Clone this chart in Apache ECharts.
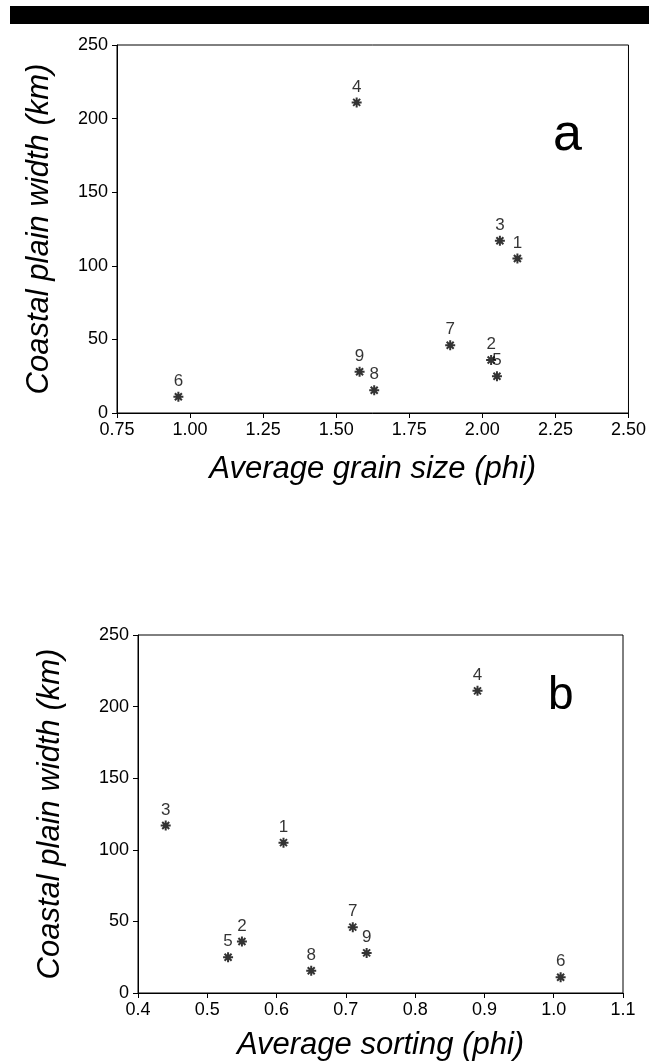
<!DOCTYPE html>
<html>
<head>
<meta charset="utf-8">
<script src="https://cdn.jsdelivr.net/npm/echarts@6/dist/echarts.min.js"></script>
<style>html,body{margin:0;padding:0;background:#fff;}#c{width:649px;height:1064px;}</style>
</head>
<body>
<div id="c"></div>
<script>
// Sample site numbers
var sites = ['1', '2', '3', '4', '5', '6', '7', '8', '9'];
// Coastal plain width (km), shared by both panels
var plainWidth = [105, 36, 117, 211, 25, 11, 46, 15.5, 28];
// Panel a: average grain size (phi)
var grainSize = [2.12, 2.03, 2.06, 1.57, 2.05, 0.96, 1.89, 1.63, 1.58];
// Panel b: average sorting (phi)
var sorting = [0.61, 0.55, 0.44, 0.89, 0.53, 1.01, 0.71, 0.65, 0.73];
// Tick labels
var grainTicks = ['0.75', '1.00', '1.25', '1.50', '1.75', '2.00', '2.25', '2.50'];
var sortTicks = ['0.4', '0.5', '0.6', '0.7', '0.8', '0.9', '1.0', '1.1'];

var FONT = 'Liberation Sans';
var star = 'path://M0,5L10,5M5,0L5,10M1.5,1.5L8.5,8.5M8.5,1.5L1.5,8.5';

function pts(xs) {
  return xs.map(function (x, i) { return { value: [x, plainWidth[i]], name: sites[i] }; });
}
function xAxis(gi, min, max, interval, ticks, name, gap) {
  return {
    gridIndex: gi, type: 'value', min: min, max: max, interval: interval,
    axisLine: { show: true, lineStyle: { color: '#000', width: 1 } },
    axisTick: { show: true, length: 5, lineStyle: { color: '#000' } },
    splitLine: { show: false },
    axisLabel: {
      color: '#000', fontFamily: FONT, fontSize: 18, margin: 8,
      formatter: function (v) { return ticks[Math.round((v - min) / interval)]; }
    },
    name: name, nameLocation: 'middle', nameGap: gap,
    nameTextStyle: { color: '#000', fontFamily: FONT, fontSize: 31, fontStyle: 'italic' }
  };
}
function yAxis(gi, gap) {
  return {
    gridIndex: gi, type: 'value', min: 0, max: 250, interval: 50,
    axisLine: { show: true, lineStyle: { color: '#000', width: 1 } },
    axisTick: { show: true, length: 5, lineStyle: { color: '#000' } },
    splitLine: { show: false },
    axisLabel: { color: '#000', fontFamily: FONT, fontSize: 18, margin: 9 },
    name: 'Coastal plain width (km)', nameLocation: 'middle', nameGap: gap,
    nameTextStyle: { color: '#000', fontFamily: FONT, fontSize: 31, fontStyle: 'italic' }
  };
}
function series(xi, xs) {
  return {
    type: 'scatter', xAxisIndex: xi, yAxisIndex: xi,
    data: pts(xs), symbol: star, symbolSize: 10,
    itemStyle: { color: 'rgba(0,0,0,0)', borderColor: '#000', borderWidth: 2 },
    label: {
      show: true, position: 'top', distance: 1, color: '#000',
      fontFamily: FONT, fontSize: 17,
      formatter: function (p) { return p.name; }
    },
    emphasis: { disabled: true }
  };
}

var chart = echarts.init(document.getElementById('c'), null, { renderer: 'canvas' });
chart.setOption({
  backgroundColor: '#fff',
  animation: false,
  grid: [
    { left: 117, right: 20, top: 45, height: 368, show: true, borderColor: '#000', borderWidth: 1, backgroundColor: 'transparent' },
    { left: 138, right: 26, top: 635, height: 358, show: true, borderColor: '#000', borderWidth: 1, backgroundColor: 'transparent' }
  ],
  xAxis: [
    xAxis(0, 0.75, 2.5, 0.25, grainTicks, 'Average grain size (phi)', 41),
    xAxis(1, 0.4, 1.1, 0.1, sortTicks, 'Average sorting (phi)', 37)
  ],
  yAxis: [yAxis(0, 62), yAxis(1, 72)],
  series: [series(0, grainSize), series(1, sorting)],
  graphic: [
    { type: 'rect', shape: { x: 10, y: 6, width: 639, height: 18 }, style: { fill: '#000' } },
    { type: 'text', left: 553, top: 110, style: { text: 'a', font: '52px "Liberation Sans"', fill: '#000' } },
    { type: 'text', left: 548, top: 673, style: { text: 'b', font: '46px "Liberation Sans"', fill: '#000' } }
  ]
});
</script>
</body>
</html>
